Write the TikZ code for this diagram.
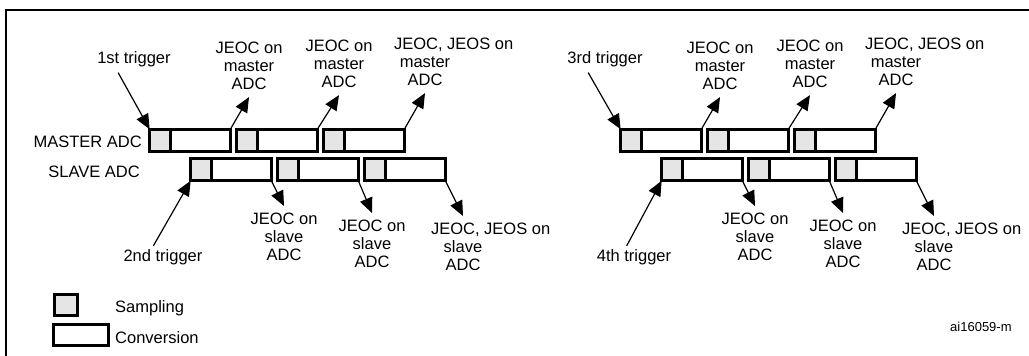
\documentclass[tikz,border=0pt]{standalone}
\usepackage{fontspec}
\setmainfont{Liberation Sans}
\usepackage{tikz}
\usetikzlibrary{arrows.meta}
\colorlet{adcsample}{black!10}
\newcommand{\adcfont}{\fontsize{16.5}{18}\selectfont}
\tikzset{
  adcbox/.style={
    draw=black,
    line width=3.3pt,
    inner sep=0pt,
    outer sep=0pt,
    minimum height=22.5pt
  },
  adcconv/.style={adcbox,fill=white,minimum width=80.7pt},
  adcsamp/.style={adcbox,fill=adcsample,minimum width=20.7pt,anchor=west},
  adcflag/.style={-{Triangle[length=15pt,width=13pt]},line width=1.2pt},
  adclabel/.style={font=\adcfont,align=center,inner sep=0pt},
  adcrow/.style={font=\adcfont,inner sep=0pt,anchor=base east},
  adcframe/.style={line width=2.5pt}
}

\begin{document}
\begin{tikzpicture}[x=1pt,y=-1pt]
  \useasboundingbox (0,0) rectangle (1029,356);
  \draw[adcframe] (6,356) -- (6,10) -- (1029,10);

  \node[adcrow] (mrow) at (142,147) {MASTER ADC};
  \node[adcrow] (srow) at (140,177) {SLAVE ADC};

  \foreach \dx/\grp/\tup/\tdown in {0/l/1st/2nd,471/r/3rd/4th}{
    \foreach \i in {1,2,3}{
      \node[adcconv] (mconv\grp\i) at ({\dx+190+87*(\i-1)},140.5) {};
      \node[adcsamp] (msamp\grp\i) at (mconv\grp\i.west) {};
      \node[adcconv] (sconv\grp\i) at ({\dx+231+87*(\i-1)},169.5) {};
      \node[adcsamp] (ssamp\grp\i) at (sconv\grp\i.west) {};
    }

    \node[adclabel,anchor=base] (mtrig\grp) at ({\dx+134},63) {\tup\ trigger};
    \node[adclabel,anchor=north] (mflag\grp1) at ({\dx+249},42) {JEOC on\\master\\ADC};
    \node[adclabel,anchor=north] (mflag\grp2) at ({\dx+339},40) {JEOC on\\master\\ADC};
    \node[adclabel,anchor=north] (mflag\grp3) at ({\dx+425},38)
      {\makebox[62pt][l]{JEOC, JEOS on}\\master\\ADC};

    \node[adclabel,anchor=base] (strig\grp) at ({\dx+163},261) {\tdown\ trigger};
    \node[adclabel,anchor=north] (sflag\grp1) at ({\dx+284},213) {JEOC on\\slave\\ADC};
    \node[adclabel,anchor=north] (sflag\grp2) at ({\dx+372},220) {JEOC on\\slave\\ADC};
    \node[adclabel,anchor=north] (sflag\grp3) at ({\dx+463},223)
      {\makebox[64pt][l]{JEOC, JEOS on}\\slave\\ADC};

    \draw[adcflag] ([xshift=21pt,yshift=-6pt]mtrig\grp.south west) -- (msamp\grp1.north west);
    \draw[adcflag] ([xshift=30pt,yshift=3pt]strig\grp.north west) -- (ssamp\grp1.south west);
    \foreach \i in {1,2,3}{
      \draw[adcflag] (mconv\grp\i.north east) -- ([yshift=-7pt]mflag\grp\i.south);
      \draw[adcflag] (sconv\grp\i.south east) -- ([yshift=7pt]sflag\grp\i.north);
    }
  }

  % legend
  \node[adcbox,fill=adcsample,minimum width=22.7pt,minimum height=20.7pt] (legsamp) at (66,305) {};
  \node[adcbox,fill=white,minimum width=54.7pt,minimum height=20.7pt] (legconv) at (81,335) {};
  \node[adcrow,anchor=base west] (legsamptext) at (115,312) {Sampling};
  \node[adcrow,anchor=base west] (legconvtext) at (115,343) {Conversion};
  \node[font=\fontsize{13}{15}\selectfont,anchor=base west,inner sep=0pt] (figid) at (950,331) {ai16059-m};
\end{tikzpicture}
\end{document}
